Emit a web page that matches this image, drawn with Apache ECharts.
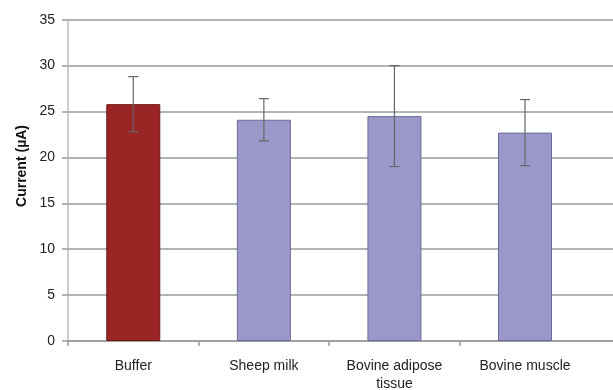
<!DOCTYPE html>
<html>
<head>
<meta charset="utf-8">
<script src="https://cdn.jsdelivr.net/npm/echarts@6/dist/echarts.min.js"></script>
<style>html,body{margin:0;padding:0;background:#fff}#c{width:613px;height:390px}</style>
</head>
<body>
<div id="c"></div>
<script>
const categories = ['Buffer', 'Sheep milk', 'Bovine adipose\ntissue', 'Bovine muscle'];
const means = [25.8, 24.1, 24.5, 22.7];
const errors = [3.0, 2.3, 5.5, 3.6];
const yTicks = [0, 5, 10, 15, 20, 25, 30, 35];
const yTitle = 'Current (µA)';

const fills = ['#9b2424', '#9a98c9', '#9a98c9', '#9a98c9'];
const borders = ['#6e1a1a', '#6a6a99', '#6a6a99', '#6a6a99'];

const chart = echarts.init(document.getElementById('c'));
const font = 'Liberation Sans, Arial, sans-serif';
const errData = categories.map((c, i) => [i, means[i] - errors[i], means[i] + errors[i]]);
// category boundaries (left edge of each category band) for the bottom ticks
const boundaryTicks = categories.map((c, i) => i);

chart.setOption({
  animation: false,
  grid: [
    {left: 68, right: 0, top: 19.7, bottom: 49, outerBoundsMode: 'none', containLabel: false},
    {left: 68, right: 22.7, top: 19.7, bottom: 49, outerBoundsMode: 'none', containLabel: false}
  ],
  xAxis: [
    {gridIndex: 0, type: 'value', min: 0, max: 545 / 522.3 * categories.length, show: true,
     axisLine: {show: true, lineStyle: {color: '#9a9a9a', width: 1.5}},
     axisTick: {show: true, length: 5, customValues: boundaryTicks, lineStyle: {color: '#9a9a9a', width: 1.5}},
     axisLabel: {show: false}, splitLine: {show: false}},
    {gridIndex: 1, type: 'category', data: categories,
     axisLine: {show: false},
     axisTick: {show: false},
     axisLabel: {color: '#222', fontSize: 14, fontFamily: font, margin: 16, lineHeight: 18, interval: 0}}
  ],
  yAxis: [
    {gridIndex: 0, type: 'value', min: 0, max: 35, interval: 5,
     axisLine: {show: true, lineStyle: {color: '#bdbdbd', width: 1.5}},
     axisTick: {show: true, length: 6, lineStyle: {color: '#9a9a9a', width: 1.5}},
     axisLabel: {color: '#222', fontSize: 14, fontFamily: font, margin: 13,
       formatter: v => yTicks.includes(v) ? String(v) : ''},
     splitLine: {show: true, lineStyle: {color: '#9a9a9a', width: 1.5}}},
    {gridIndex: 1, type: 'value', min: 0, max: 35, interval: 5, show: false}
  ],
  graphic: [{
    type: 'text', x: 22, y: 166, rotation: Math.PI / 2,
    style: {text: yTitle, font: 'bold 14px ' + font, fill: '#111', align: 'center', verticalAlign: 'middle'}
  }],
  series: [
    {type: 'bar', xAxisIndex: 1, yAxisIndex: 1, barWidth: 54,
     data: means.map((v, i) => ({value: v, itemStyle: {color: fills[i], borderColor: borders[i], borderWidth: 1}})),
     z: 3},
    {type: 'custom', xAxisIndex: 1, yAxisIndex: 1, z: 5,
     data: errData,
     renderItem: function (params, api) {
       const x = api.value(0);
       const lo = api.coord([x, api.value(1)]);
       const hi = api.coord([x, api.value(2)]);
       const cap = 5;
       const st = {stroke: '#666', lineWidth: 1.2};
       return {type: 'group', children: [
         {type: 'line', shape: {x1: hi[0], y1: hi[1], x2: lo[0], y2: lo[1]}, style: st},
         {type: 'line', shape: {x1: hi[0] - cap, y1: hi[1], x2: hi[0] + cap, y2: hi[1]}, style: st},
         {type: 'line', shape: {x1: lo[0] - cap, y1: lo[1], x2: lo[0] + cap, y2: lo[1]}, style: st}
       ]};
     }}
  ]
});
</script>
</body>
</html>
